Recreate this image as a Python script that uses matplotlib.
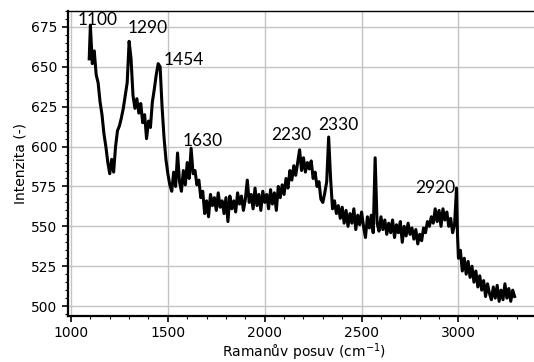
import matplotlib.pyplot as plt
from matplotlib.ticker import MultipleLocator
import numpy as np

# Raman spectrum (wavenumber in cm^-1, intensity)
wavenumber = [1094] + list(range(1100, 2990, 10)) + [2990, 2995] + list(range(3000, 3300, 10))
intensity = [
    655, 676, 652, 660, 645, 640, 628, 620, 608, 600, 590,              # 1094-1190
    583, 592, 584, 600, 610, 613, 618, 624, 632, 640,                   # 1200-1290
    666, 655, 632, 624, 630, 621, 627, 615, 620, 605,                   # 1300-1390
    616, 612, 628, 636, 645, 652, 650, 625, 606, 592,                   # 1400-1490
    583, 576, 572, 584, 575, 596, 578, 572, 585, 576,                   # 1500-1590
    590, 580, 599, 583, 585, 576, 579, 568, 572, 558,                   # 1600-1690
    566, 556, 570, 563, 568, 560, 571, 562, 566, 558,                   # 1700-1790
    568, 553, 569, 561, 566, 559, 571, 564, 569, 560,                   # 1800-1890
    567, 579, 565, 570, 561, 574, 563, 570, 560, 572,                   # 1900-1990
    565, 570, 561, 573, 564, 571, 560, 575, 568, 576,                   # 2000-2090
    570, 580, 574, 585, 579, 588, 582, 590, 598, 585,                   # 2100-2190
    593, 584, 590, 586, 591, 580, 584, 575, 578, 567,                   # 2200-2290
    565, 571, 578, 606, 580, 561, 566, 558, 563, 555,                   # 2300-2390
    562, 552, 560, 550, 558, 552, 561, 548, 557, 551,                   # 2400-2490
    559, 550, 543, 556, 549, 557, 546, 593, 552, 547,                   # 2500-2590
    556, 548, 554, 545, 552, 546, 554, 543, 551, 546,                   # 2600-2690
    553, 540, 550, 544, 552, 545, 549, 542, 548, 539,                   # 2700-2790
    545, 541, 549, 546, 553, 550, 556, 552, 561, 553,                   # 2800-2890
    560, 550, 561, 554, 559, 550, 555, 546, 551,                        # 2900-2980
    574, 545,                                                           # 2990, 2995
    530, 535, 522, 530, 520, 528, 518, 525, 515, 522,                   # 3000-3090
    512, 519, 510, 516, 506, 514, 508, 504, 512, 505,                   # 3100-3190
    513, 503, 510, 504, 514, 505, 511, 503, 510, 506,                   # 3200-3290
]

peak_labels = ['1100', '1290', '1454', '1630', '2230', '2330', '2920']
label_x = [1036, 1294, 1480, 1578, 2033, 2275, 2776]
label_y = [679.4, 674.4, 654.3, 603.5, 607.2, 613.5, 574.0]

fig = plt.figure(figsize=(5.34, 3.62), dpi=100, facecolor='white')
ax = fig.add_axes([68 / 534, 46 / 362, 472 / 534, 305 / 362])

ax.plot(wavenumber, intensity, color='black', linewidth=2.2)

for txt, lx, ly in zip(peak_labels, label_x, label_y):
    ax.text(lx, ly, txt, fontsize=12.5, family='Lato', ha='left', va='center')

ax.set_xlim(984.5, 3421)
ax.set_ylim(493.8, 685)
ax.set_xticks([1000, 1500, 2000, 2500, 3000])
ax.set_yticks([500, 525, 550, 575, 600, 625, 650, 675])
ax.xaxis.set_minor_locator(MultipleLocator(100))
ax.yaxis.set_minor_locator(MultipleLocator(5))

ax.grid(True, which='major', color='#c4c4c4', linewidth=1.0)
ax.set_axisbelow(True)
ax.tick_params(axis='both', which='major', labelsize=10, length=4, width=1.2)
ax.tick_params(axis='both', which='minor', length=2.5, width=0.8)

ax.spines['left'].set_linewidth(1.6)
ax.spines['bottom'].set_linewidth(1.6)
ax.spines['top'].set_linewidth(1.0)
ax.spines['right'].set_visible(False)

ax.set_xlabel('Ramanův posuv (cm$^{-1}$)', fontsize=10, labelpad=1)
ax.set_ylabel('Intenzita (-)', fontsize=10, labelpad=3)

fig.savefig('out.png', dpi=100, facecolor='white')
